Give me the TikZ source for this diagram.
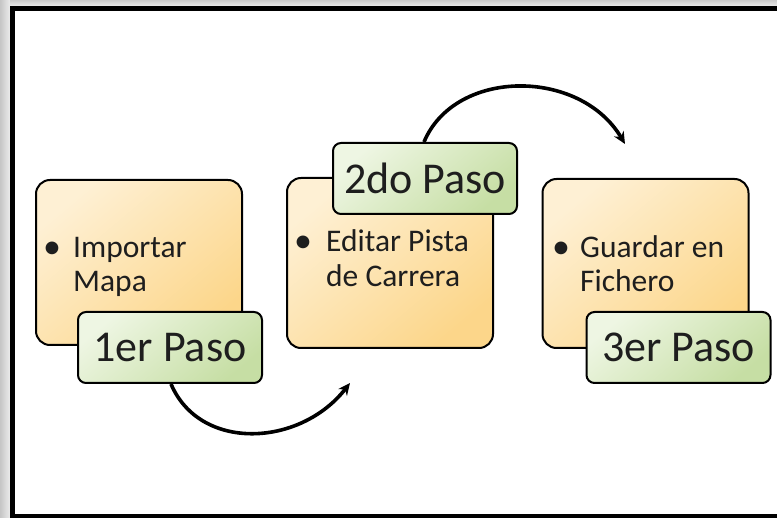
\documentclass[tikz,border=0pt]{standalone}
\usepackage{fontspec}
\setmainfont{Carlito}
\usetikzlibrary{arrows.meta}
\definecolor{orlight}{HTML}{FEF0D4}
\definecolor{ordark}{HTML}{FCD68A}
\definecolor{grlight}{HTML}{EEF6E3}
\definecolor{grdark}{HTML}{C6DEA4}
\definecolor{ink}{HTML}{1E1E1E}
\tikzset{
  taskbox/.style={draw=black, line width=2pt, rounded corners=14pt, inner sep=0pt,
    minimum width=206pt, top color=orlight, bottom color=ordark, shading angle=40},
  stepbox/.style={draw=black, line width=2pt, rounded corners=8pt, inner sep=0pt,
    minimum width=184pt, minimum height=71pt, top color=grlight, bottom color=grdark,
    shading angle=40, text=ink, font=\fontsize{44}{44}\selectfont},
  itemtext/.style={anchor=base west, inner sep=0pt, text=ink, font=\fontsize{31.5}{34}\selectfont},
  bullet/.style={anchor=base west, inner sep=0pt, text=ink, font=\fontsize{36}{34}\selectfont},
  flow/.style={line width=3.6pt, -{Stealth[length=12pt,width=11pt]}}
}
\begin{document}
\begin{tikzpicture}[x=1pt,y=-1pt]
  \useasboundingbox (0,0) rectangle (777,518);
  % soft shadow along the frame's outer edges
  \shade[left color=gray!45, right color=gray!15] (0,0) rectangle (10,518);
  \shade[top color=gray!40, bottom color=gray!15] (10,0) rectangle (777,6);
  \fill[white] (15,11) rectangle (777,515);
  % frame
  \draw[line width=5pt] (780,8.5) -- (12.5,8.5) -- (12.5,516.5) -- (780,516.5);

  % task boxes
  \node[taskbox, minimum height=165pt] (b1) at (139,262.5) {};
  \node[taskbox, minimum height=170pt] (b2) at (390,263) {};
  \node[taskbox, minimum height=169pt] (b3) at (645.5,263.5) {};

  \node[bullet] (b1bul) at (43,259) {•};
  \node[itemtext] (b1l1) at (73,258) {Importar};
  \node[itemtext] (b1l2) at (73,292) {Mapa};

  \node[bullet] (b2bul) at (294,253) {•};
  \node[itemtext] (b2l1) at (326,252) {Editar Pista};
  \node[itemtext] (b2l2) at (326,287) {de Carrera};

  \node[bullet] (b3bul) at (552,259) {•};
  \node[itemtext] (b3l1) at (580,258) {Guardar en};
  \node[itemtext] (b3l2) at (580,292) {Fichero};

  % step labels
  \node[stepbox] (s1) at (170,347.5) {1er Paso};
  \node[stepbox] (s2) at (425,178.5) {2do Paso};
  \node[stepbox] (s3) at (678.5,347.5) {3er Paso};

  % connectors between steps
  \coordinate (e1) at (350,383);
  \coordinate (e2) at (625,144);
  \draw[flow] ([xshift=94pt]s1.south west) .. controls (200,452) and (300,447) .. (e1);
  \draw[flow] ([xshift=92pt]s2.north west) .. controls (455,68) and (580,68) .. (e2);
\end{tikzpicture}
\end{document}
